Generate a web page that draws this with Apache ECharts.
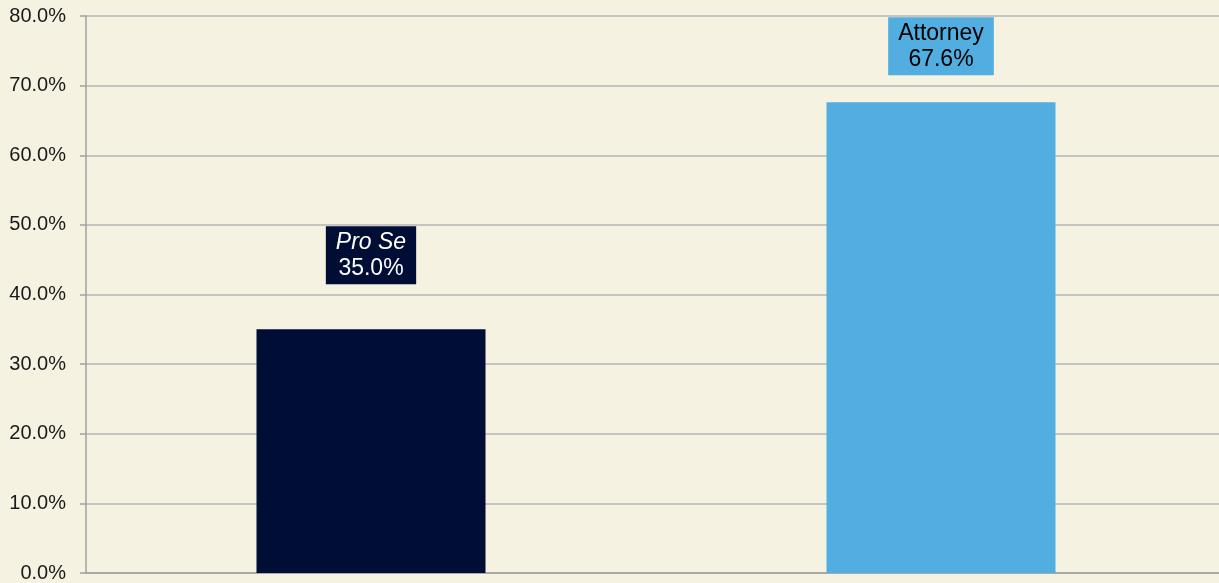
<!DOCTYPE html>
<html>
<head>
<meta charset="utf-8">
<script src="https://cdn.jsdelivr.net/npm/echarts@6/dist/echarts.min.js"></script>
<style>
    html, body { margin: 0; padding: 0; background: #f5f2e1; overflow: hidden; }
    #chart { width: 1226px; height: 583px; }
</style>
</head>
<body>
<div id="chart"></div>
<script>
const categories = ['Pro Se', 'Attorney'];
const values = [35.0, 67.6];
const barColors = ['#000e35', '#52ade0'];
const labelColors = ['#ffffff', '#000000'];
const labelGaps = [45, 27];
const yTicks = { min: 0, max: 80, interval: 10 };

const chart = echarts.init(document.getElementById('chart'));

const seriesData = values.map((v, i) => ({
    value: v,
    itemStyle: { color: barColors[i] },
    label: {
        show: true,
        position: 'top',
        distance: labelGaps[i],
        backgroundColor: barColors[i],
        padding: [3, 10, 3, 10],
        formatter: function (p) {
            const nameStyle = i === 0 ? 'it' : 'nm';
            return '{' + nameStyle + '|' + categories[i] + '}\n{nm|' + values[i].toFixed(1) + '%}';
        },
        rich: {
            it: { fontStyle: 'italic', fontSize: 23, lineHeight: 26, color: labelColors[i], fontFamily: 'Liberation Sans' },
            nm: { fontSize: 23, lineHeight: 26, color: labelColors[i], fontFamily: 'Liberation Sans' }
        }
    }
}));

chart.setOption({
    backgroundColor: '#f5f2e1',
    animation: false,
    grid: {
        left: 86,
        right: 0,
        top: 16,
        bottom: 10
    },
    xAxis: {
        type: 'category',
        data: categories,
        axisLine: { lineStyle: { color: '#a0a0a0', width: 1.5 } },
        axisTick: { show: false },
        axisLabel: { show: false }
    },
    yAxis: {
        type: 'value',
        min: yTicks.min,
        max: yTicks.max,
        interval: yTicks.interval,
        axisLine: { show: true, lineStyle: { color: '#a0a0a0', width: 1.5 } },
        axisTick: { show: true, length: 6, lineStyle: { color: '#a0a0a0', width: 1.5 } },
        axisLabel: {
            margin: 20,
            fontSize: 20,
            color: '#1a1a1a',
            fontFamily: 'Liberation Sans',
            formatter: v => v.toFixed(1) + '%'
        },
        splitLine: { lineStyle: { color: '#b4b4b4', width: 1.5 } }
    },
    series: [
        {
            type: 'bar',
            barWidth: 229,
            data: seriesData
        }
    ]
});
</script>
</body>
</html>
